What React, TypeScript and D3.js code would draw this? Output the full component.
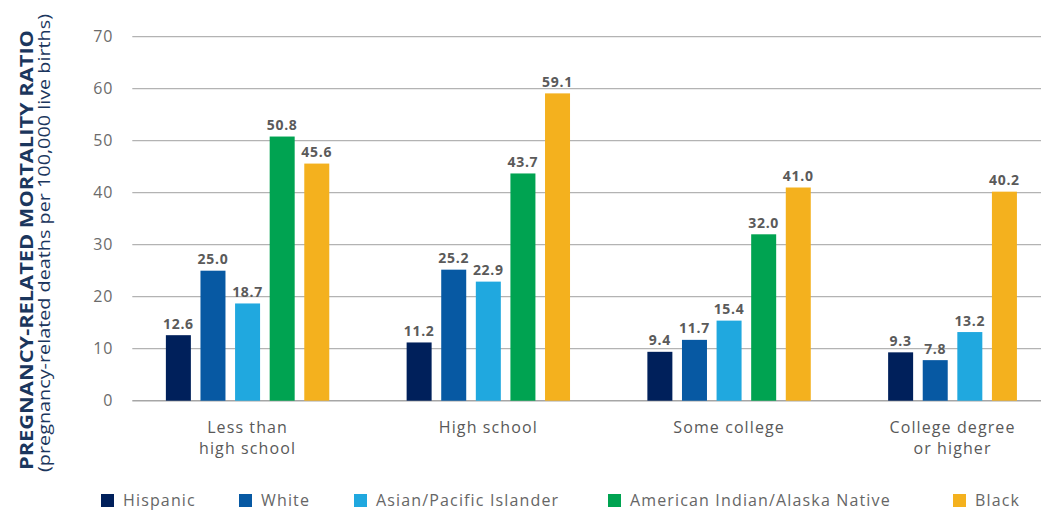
import React from "react";
import * as d3 from "d3";

const categories = ["Less than|high school", "High school", "Some college", "College degree|or higher"];
const seriesNames = ["Hispanic", "White", "Asian/Pacific Islander", "American Indian/Alaska Native", "Black"];
const hispanic = [12.6, 11.2, 9.4, 9.3];
const white = [25.0, 25.2, 11.7, 7.8];
const asianPI = [18.7, 22.9, 15.4, 13.2];
const aian: (number | null)[] = [50.8, 43.7, 32.0, null];
const black = [45.6, 59.1, 41.0, 40.2];
const yTicks = [0, 10, 20, 30, 40, 50, 60, 70];

const seriesValues: (number | null)[][] = [hispanic, white, asianPI, aian, black];
const colors = ["#00205b", "#0759a3", "#20a8df", "#00a351", "#f4b11e"];
const legendX = [101, 239, 354, 608, 953];

const W = 1041;
const H = 510;
const FONT = "'Open Sans', sans-serif";

export default function App() {
  const y = d3.scaleLinear().domain([0, 70]).range([400.7, 36.7]);
  const x = d3.scaleBand().domain(categories).range([127.2, 127.2 + 4 * 240.75]).padding(0);
  const slotStep = 34.6;
  const p = 0.2775;
  const inner = d3
    .scaleBand<number>()
    .domain([0, 1, 2, 3, 4])
    .range([0, slotStep * (5 - p)])
    .paddingInner(p)
    .paddingOuter(0);
  const groupWidth = slotStep * (5 - p);

  return (
    <svg width={W} height={H} style={{ position: "absolute", left: 0, top: 0, display: "block" }} fontFamily={FONT}>
      <rect width={W} height={H} fill="#fff" />
      {/* gridlines */}
      {yTicks.map((t) => (
        <line
          key={"g" + t}
          x1={132.3}
          x2={W}
          y1={y(t)}
          y2={y(t)}
          stroke={t === 0 ? "#a6a6a6" : "#b3b3b3"}
          strokeWidth={t === 0 ? 1.6 : 1.3}
        />
      ))}
      {yTicks.map((t) => (
        <text key={"t" + t} x={113.5} y={y(t)} dy="0.36em" textAnchor="end" fontSize={16} fill="#6b6b6b" letterSpacing={1}>
          {t}
        </text>
      ))}
      {/* bars */}
      {categories.map((c, ci) => {
        const present = seriesValues
          .map((vals, si) => ({ si, v: vals[ci] }))
          .filter((d) => d.v !== null && d.v !== undefined) as { si: number; v: number }[];
        const g0 = (x(c) as number) + x.bandwidth() / 2 - groupWidth / 2;
        const lastSlot = present.length - 1;
        const labelCenter = g0 + ((inner(0) as number) + (inner(lastSlot) as number) + inner.bandwidth()) / 2;
        const lines = c.split("|");
        return (
          <g key={c}>
            {present.map((d, k) => {
              const bx = g0 + (inner(k) as number);
              return (
                <g key={d.si}>
                  <rect x={bx} y={y(d.v)} width={inner.bandwidth()} height={y(0) - y(d.v)} fill={colors[d.si]} />
                  <text
                    x={bx + inner.bandwidth() / 2}
                    y={y(d.v) - 6.5}
                    textAnchor="middle"
                    fontSize={14}
                    fontWeight={700}
                    fill="#5a5a5a"
                    letterSpacing={0.7}
                  >
                    {d.v.toFixed(1)}
                  </text>
                </g>
              );
            })}
            {lines.map((ln, li) => (
              <text key={li} x={labelCenter} y={433 + li * 20.5} textAnchor="middle" fontSize={16} fill="#595959" letterSpacing={1.1}>
                {ln}
              </text>
            ))}
          </g>
        );
      })}
      {/* y-axis title */}
      <g transform="translate(33,250) rotate(-90)">
        <text x={0} y={0} textAnchor="middle" fontSize={18} fontWeight={700} fill="#1b365d" textLength={440} lengthAdjust="spacingAndGlyphs">
          PREGNANCY-RELATED MORTALITY RATIO
        </text>
      </g>
      <g transform="translate(49.5,243) rotate(-90)">
        <text x={0} y={0} textAnchor="middle" fontSize={17} fill="#1b365d" textLength={458} lengthAdjust="spacingAndGlyphs">
          (pregnancy-related deaths per 100,000 live births)
        </text>
      </g>
      {/* legend */}
      {seriesNames.map((s, i) => (
        <g key={s} transform={`translate(${legendX[i]},494)`}>
          <rect x={0} y={0} width={13} height={13} fill={colors[i]} />
          <text x={22} y={12.3} fontSize={16} fill="#666" letterSpacing={1.15}>
            {s}
          </text>
        </g>
      ))}
    </svg>
  );
}
